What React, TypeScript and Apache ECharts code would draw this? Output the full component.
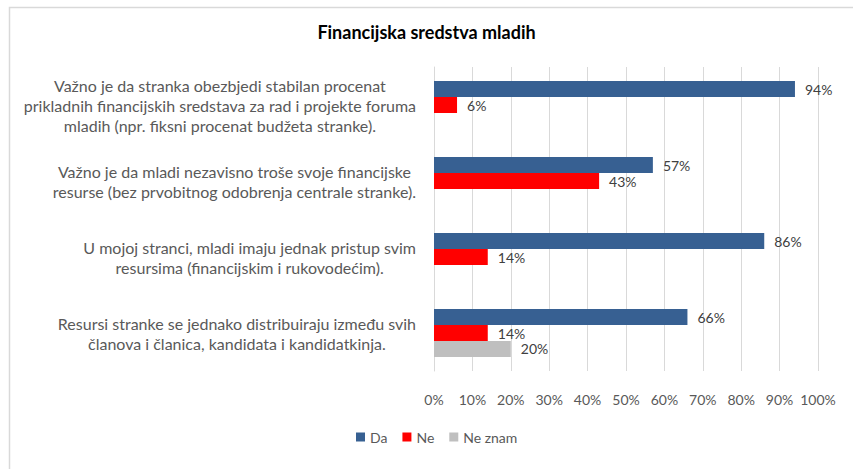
import React, { useEffect, useRef } from "react";
import * as echarts from "echarts";

const title = "Financijska sredstva mladih";
const categories = [
  "Važno je da stranka obezbjedi stabilan procenat\nprikladnih financijskih sredstava za rad i projekte foruma\nmladih (npr. fiksni procenat budžeta stranke).",
  "Važno je da mladi nezavisno troše svoje financijske\nresurse (bez prvobitnog odobrenja centrale stranke).",
  "U mojoj stranci, mladi imaju jednak pristup svim\nresursima (financijskim i rukovodećim).",
  "Resursi stranke se jednako distribuiraju između svih\nčlanova i članica, kandidata i kandidatkinja.",
];
const seriesNames = ["Da", "Ne", "Ne znam"];
const daValues = [94, 57, 86, 66];
const neValues = [6, 43, 14, 14];
const neZnamValues: (number | null)[] = [null, null, null, 20];
const colors = ["#376092", "#FF0000", "#BFBFBF"];

const FONT = "Lato, 'Noto Sans', sans-serif";

export default function App() {
  const ref = useRef<HTMLDivElement>(null);
  useEffect(() => {
    if (!ref.current) return;
    const chart = echarts.init(ref.current, null, { renderer: "svg" });
    const label = {
      show: true,
      position: "right" as const,
      distance: 10,
      formatter: "{c}%",
      color: "#404040",
      fontSize: 14,
      fontFamily: FONT,
    };
    chart.setOption({
      animation: false,
      backgroundColor: "#ffffff",
      graphic: [
        {
          type: "rect",
          left: 7,
          top: 5,
          shape: { width: 900, height: 500 },
          style: { fill: "none", stroke: "#d9d9d9", lineWidth: 1.5 },
          silent: true,
        },
      ],
      title: {
        text: title,
        left: "center",
        top: 18,
        textStyle: { fontSize: 18, fontWeight: "bold", color: "#000", fontFamily: FONT },
      },
      legend: {
        bottom: 20,
        left: 351,
        itemWidth: 9,
        itemHeight: 9,
        itemGap: 15,
        icon: "rect",
        textStyle: { color: "#595959", fontSize: 14, fontFamily: FONT },
        data: seriesNames,
      },
      grid: { left: 434, right: 35, top: 67, bottom: 98, containLabel: false },
      xAxis: {
        type: "value",
        min: 0,
        max: 100,
        interval: 10,
        axisLabel: { formatter: "{value}%", color: "#595959", fontSize: 14, fontFamily: FONT, margin: 21 },
        axisLine: { show: false },
        axisTick: { show: false },
        splitLine: { lineStyle: { color: "#d9d9d9", width: 1 } },
      },
      yAxis: {
        type: "category",
        inverse: true,
        data: categories,
        axisLine: { show: true, lineStyle: { color: "#d9d9d9" } },
        axisTick: { show: false },
        axisLabel: {
          interval: 0,
          margin: 18,
          align: "right",
          color: "#595959",
          fontSize: 16,
          fontFamily: FONT,
          lineHeight: 20,
          formatter: (v: string) =>
            v
              .split("\n")
              .map((l) => "{c|" + l + "}")
              .join("\n"),
          rich: {
            c: { align: "center", color: "#595959", fontSize: 16, fontFamily: FONT, lineHeight: 20 },
          },
        },
      },
      series: [
        { name: seriesNames[0], type: "bar", data: daValues, itemStyle: { color: colors[0] }, barGap: "0%", barCategoryGap: "37%", label },
        { name: seriesNames[1], type: "bar", data: neValues, itemStyle: { color: colors[1] }, barGap: "0%", barCategoryGap: "37%", label },
        { name: seriesNames[2], type: "bar", data: neZnamValues, itemStyle: { color: colors[2] }, barGap: "0%", barCategoryGap: "37%", label },
      ],
    });
    return () => chart.dispose();
  }, []);
  return (
    <div
      ref={ref}
      style={{ position: "fixed", left: 0, top: 0, width: 853, height: 469, background: "#fff" }}
    />
  );
}
